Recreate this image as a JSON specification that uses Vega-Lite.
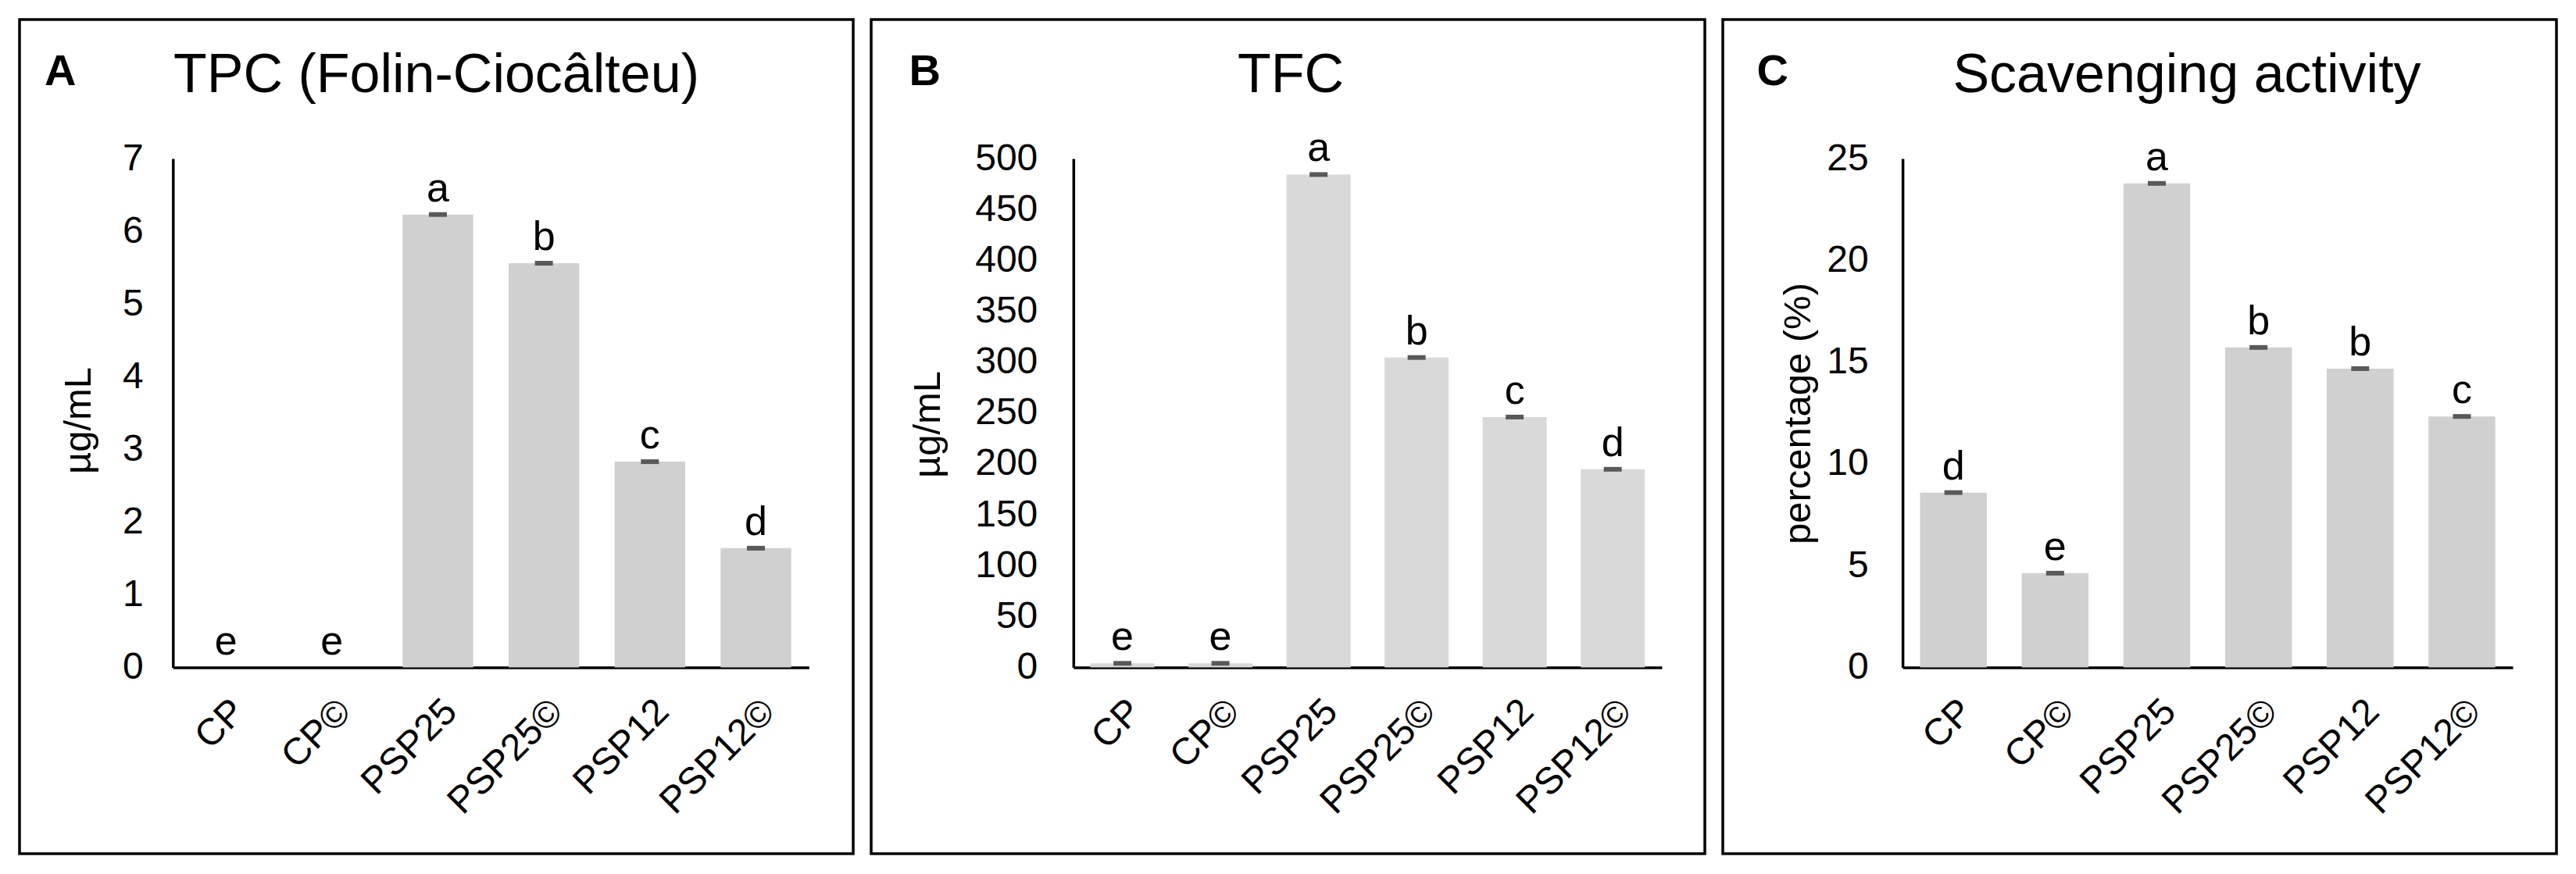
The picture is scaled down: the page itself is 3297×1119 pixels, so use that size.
{
  "$schema": "https://vega.github.io/schema/vega-lite/v6.json",
  "background": "white",
  "padding": {"left": 23, "top": 23, "right": 0, "bottom": 0},
  "bounds": "flush",
  "spacing": 23,
  "config": {
    "font": "Liberation Sans",
    "view": {"stroke": "black", "strokeWidth": 3.5},
    "axis": {"labelFont": "Liberation Sans", "titleFont": "Liberation Sans", "labelColor": "black", "titleColor": "black", "grid": false, "domain": true, "domainColor": "black", "domainWidth": 3.5, "ticks": false, "titleFontWeight": "normal"}
  },
  "hconcat": [
    {
      "width": 1067,
      "height": 1068,
      "title": {"text": "TPC (Folin-Ciocâlteu)", "fontSize": 70, "fontWeight": "normal", "font": "Liberation Sans", "color": "black", "anchor": "middle", "frame": "group", "orient": "top", "baseline": "alphabetic", "offset": -163},
      "data": {"values": [
        {"sample": "CP", "value": 0, "letter": "e"},
        {"sample": "CP©", "value": 0, "letter": "e"},
        {"sample": "PSP25", "value": 6.23, "letter": "a"},
        {"sample": "PSP25©", "value": 5.56, "letter": "b"},
        {"sample": "PSP12", "value": 2.83, "letter": "c"},
        {"sample": "PSP12©", "value": 1.64, "letter": "d"}
      ]},
      "encoding": {
        "x": {"field": "sample", "type": "nominal", "sort": null,
          "scale": {"type": "band", "range": [196.3, 1010.3], "paddingInner": 0.334, "paddingOuter": 0.167},
          "axis": {"title": null, "offset": -238.5, "labelAngle": -45, "labelAlign": "right", "labelBaseline": "top", "labelPadding": 32, "labelFontSize": 48, "labelLimit": 400}},
        "y": {"field": "value", "type": "quantitative",
          "scale": {"domain": [0, 7], "range": [829.5, 178], "nice": false},
          "axis": {"values": [0, 1, 2, 3, 4, 5, 6, 7], "offset": -196.3, "labelFontSize": 48, "labelPadding": 38, "title": "µg/mL", "titleFontSize": 49, "titleX": -121, "titleY": 513, "titleAngle": -90, "titleAlign": "center", "titleBaseline": "middle"}}
      },
      "layer": [
        {"mark": {"type": "bar", "color": "#d0d0d0"}},
        {"transform": [{"filter": "datum.value > 0"}], "mark": {"type": "tick", "color": "#595959", "opacity": 1, "size": 23, "thickness": 6}},
        {"mark": {"type": "text", "fontSize": 52, "baseline": "alphabetic", "align": "center", "dy": -17, "color": "black"}, "encoding": {"text": {"field": "letter"}}},
        {"transform": [{"filter": "datum.sample === 'CP'"}], "mark": {"type": "text", "text": "A", "fontSize": 56, "fontWeight": "bold", "align": "left", "baseline": "alphabetic", "color": "black", "dx": -187},
          "encoding": {"x": {"datum": "CP", "bandPosition": 0}, "y": {"datum": 8.01}}}
      ]
    },
    {
      "width": 1067,
      "height": 1068,
      "title": {"text": "TFC", "fontSize": 70, "fontWeight": "normal", "font": "Liberation Sans", "color": "black", "anchor": "middle", "frame": "group", "orient": "top", "baseline": "alphabetic", "offset": -163, "dx": 3.5},
      "data": {"values": [
        {"sample": "CP", "value": 4, "letter": "e"},
        {"sample": "CP©", "value": 4, "letter": "e"},
        {"sample": "PSP25", "value": 484.3, "letter": "a"},
        {"sample": "PSP25©", "value": 304.5, "letter": "b"},
        {"sample": "PSP12", "value": 246, "letter": "c"},
        {"sample": "PSP12©", "value": 194.7, "letter": "d"}
      ]},
      "encoding": {
        "x": {"field": "sample", "type": "nominal", "sort": null,
          "scale": {"type": "band", "range": [258.8, 1011.9], "paddingInner": 0.347, "paddingOuter": 0.1735},
          "axis": {"title": null, "offset": -238.5, "labelAngle": -45, "labelAlign": "right", "labelBaseline": "top", "labelPadding": 32, "labelFontSize": 48, "labelLimit": 400}},
        "y": {"field": "value", "type": "quantitative",
          "scale": {"domain": [0, 500], "range": [829.5, 178], "nice": false},
          "axis": {"values": [0, 50, 100, 150, 200, 250, 300, 350, 400, 450, 500], "offset": -258.8, "labelFontSize": 48, "labelPadding": 46, "title": "µg/mL", "titleFontSize": 49, "titleX": -186, "titleY": 518, "titleAngle": -90, "titleAlign": "center", "titleBaseline": "middle"}}
      },
      "layer": [
        {"mark": {"type": "bar", "color": "#d9d9d9"}},
        {"mark": {"type": "tick", "color": "#595959", "opacity": 1, "size": 23, "thickness": 6}},
        {"mark": {"type": "text", "fontSize": 52, "baseline": "alphabetic", "align": "center", "dy": -17, "color": "black"}, "encoding": {"text": {"field": "letter"}}},
        {"transform": [{"filter": "datum.sample === 'CP'"}], "mark": {"type": "text", "text": "B", "fontSize": 56, "fontWeight": "bold", "align": "left", "baseline": "alphabetic", "color": "black", "dx": -232},
          "encoding": {"x": {"datum": "CP", "bandPosition": 0}, "y": {"datum": 572.1}}}
      ]
    },
    {
      "width": 1067,
      "height": 1068,
      "title": {"text": "Scavenging activity", "fontSize": 70, "fontWeight": "normal", "font": "Liberation Sans", "color": "black", "anchor": "middle", "frame": "group", "orient": "top", "baseline": "alphabetic", "offset": -163, "dx": 60.5},
      "data": {"values": [
        {"sample": "CP", "value": 8.59, "letter": "d"},
        {"sample": "CP©", "value": 4.63, "letter": "e"},
        {"sample": "PSP25", "value": 23.78, "letter": "a"},
        {"sample": "PSP25©", "value": 15.72, "letter": "b"},
        {"sample": "PSP12", "value": 14.68, "letter": "b"},
        {"sample": "PSP12©", "value": 12.33, "letter": "c"}
      ]},
      "encoding": {
        "x": {"field": "sample", "type": "nominal", "sort": null,
          "scale": {"type": "band", "range": [230.1, 1011], "paddingInner": 0.343, "paddingOuter": 0.1715},
          "axis": {"title": null, "offset": -238.5, "labelAngle": -45, "labelAlign": "right", "labelBaseline": "top", "labelPadding": 32, "labelFontSize": 48, "labelLimit": 400}},
        "y": {"field": "value", "type": "quantitative",
          "scale": {"domain": [0, 25], "range": [829.5, 178], "nice": false},
          "axis": {"values": [0, 5, 10, 15, 20, 25], "offset": -230.1, "labelFontSize": 48, "labelPadding": 44, "title": "percentage (%)", "titleFontSize": 49, "titleX": -134, "titleY": 504, "titleAngle": -90, "titleAlign": "center", "titleBaseline": "middle"}}
      },
      "layer": [
        {"mark": {"type": "bar", "color": "#d0d0d0"}},
        {"mark": {"type": "tick", "color": "#595959", "opacity": 1, "size": 23, "thickness": 6}},
        {"mark": {"type": "text", "fontSize": 52, "baseline": "alphabetic", "align": "center", "dy": -17, "color": "black"}, "encoding": {"text": {"field": "letter"}}},
        {"transform": [{"filter": "datum.sample === 'CP'"}], "mark": {"type": "text", "text": "C", "fontSize": 56, "fontWeight": "bold", "align": "left", "baseline": "alphabetic", "color": "black", "dx": -209},
          "encoding": {"x": {"datum": "CP", "bandPosition": 0}, "y": {"datum": 28.61}}}
      ]
    }
  ]
}
